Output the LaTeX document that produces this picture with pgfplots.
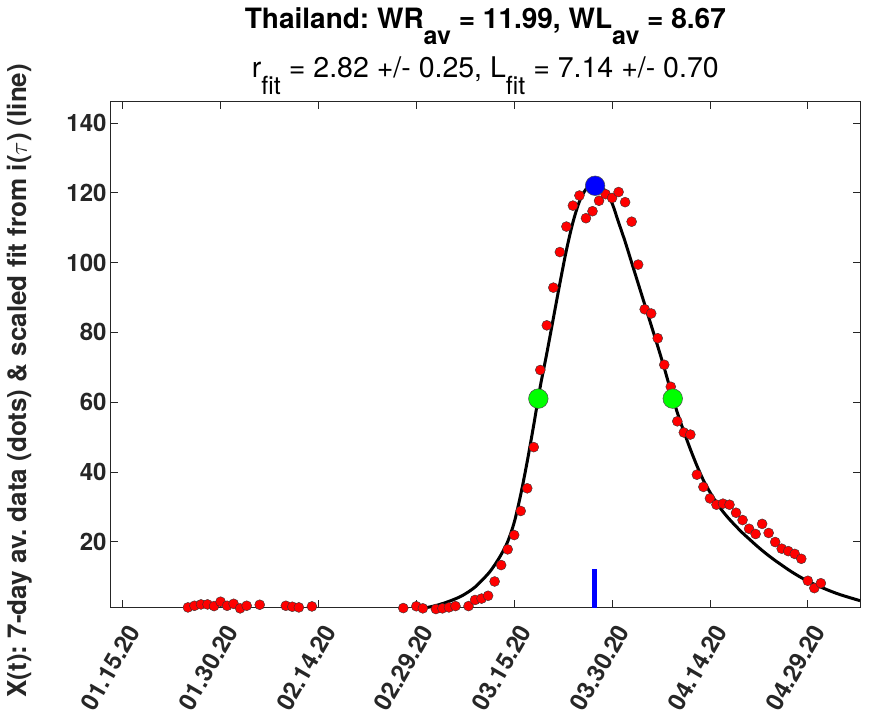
\documentclass[border=0pt]{standalone}
\usepackage{pgfplots}
\usepackage{pgfplotstable}
\pgfplotsset{compat=1.18}
\usepackage{fontspec}
\setmainfont{TeX Gyre Heros}
\frenchspacing
\definecolor{axgray}{rgb}{0.15,0.15,0.15}
\definecolor{mgreen}{rgb}{0,1,0}
\definecolor{mblue}{rgb}{0,0,1}
\definecolor{mred}{rgb}{1,0,0}
\newcommand{\sub}[1]{\raisebox{-0.6em}{\fontsize{25}{25}\selectfont #1}}

\pgfplotstableread{
day val
10 1.17
11 1.64
12 2.03
13 2.03
14 1.55
15 2.8
16 1.64
17 2.2
18 0.9
19 1.64
21 1.93
25 1.64
26 1.36
27 1.17
29 1.45
43 0.98
45 1.5
46 0.9
48 0.7
49 0.9
50 1.17
51 1.55
53 1.55
54 3.3
55 3.7
56 4.5
57 8.6
58 13.3
59 17.8
60 21.9
61 28.8
62 35.3
63 47.1
64 69.2
65 82.0
66 92.8
67 103.0
68 110.3
69 116.3
70 119.2
71 112.7
72 114.7
73 117.7
74 119.6
75 118.5
76 120.2
77 117.3
78 111.7
79 99.4
80 86.6
81 85.4
82 78.3
83 70.7
84 64.4
85 54.5
86 51.3
87 50.7
88 39.2
89 35.7
90 32.4
91 30.6
92 30.9
93 30.6
94 28.3
95 26.2
96 23.7
97 22.2
98 25.1
99 22.5
100 19.9
101 18.0
102 17.3
103 16.5
104 15.1
105 8.8
106 6.7
107 8.1
}\datatable

\pgfplotstableread{
day val
46 0.9
48 1.7
50 2.9
52 4.5
54 7.0
56 10.8
57 13.3
58 16.3
59 20.0
60 25.5
61 33.5
62 43.0
63 53.5
64 64.5
65 74.0
66 84.0
67 94.0
68 103.5
69 111.5
70 117.5
71 121.0
72 122.2
73 122.0
74 120.5
75 117.0
76 111.5
77 106.0
78 100.0
79 94.0
80 88.0
81 82.0
82 76.0
83 69.8
84 63.2
85 57.0
86 51.6
87 46.5
88 41.8
89 37.6
90 34.2
91 31.2
92 28.6
93 26.4
94 24.4
95 22.5
96 20.8
97 19.1
98 17.5
99 16.0
100 14.6
101 13.3
102 12.0
103 10.8
104 9.7
105 8.7
106 7.8
108 6.2
110 4.8
113 3.1
}\fittable

\begin{document}
\begin{tikzpicture}
\useasboundingbox (-110.7pt,-112pt) rectangle (760.3pt,608pt);
\begin{axis}[
  at={(0pt,0pt)}, anchor=south west,
  scale only axis, width=749.3pt, height=506pt,
  xmin=-1.84, xmax=113, ymin=1, ymax=146,
  xtick={0,15,30,45,60,75,90,105},
  xticklabels={01.15.20,01.30.20,02.14.20,02.29.20,03.15.20,03.30.20,04.14.20,04.29.20},
  ytick={20,40,60,80,100,120,140},
  tick align=inside, major tick length=7.5pt,
  tick pos=both,
  axis line style={axgray, line width=1pt},
  every tick/.style={axgray, line width=0.8pt},
  /pgf/number format/assume math mode=true,
  ticklabel style={font=\fontsize{24}{24}\selectfont\bfseries, text=axgray},
  yticklabel style={inner sep=0pt, xshift=-4pt},
  xticklabel style={inner sep=0pt, xshift=11pt, yshift=-19pt, rotate=60, anchor=east},
  ylabel={X(t): 7-day av. data (dots) \& scaled fit from i($\tau$) (line)},
  ylabel style={at={(axis description cs:-0.121,0.449)}, anchor=center,
     font=\fontsize{26}{26}\selectfont\bfseries, text=axgray},
  clip=false,
]
\addplot[only marks, mark=*, mark size=5pt,
  mark options={fill=mred, draw=black!80, line width=0.4pt}] table[x=day,y=val] {\datatable};
\addplot[black, line width=3pt, smooth] table[x=day,y=val] {\fittable};
\addplot[mblue, line width=5pt] coordinates {(72.3,1) (72.3,12.2)};
\addplot[only marks, mark=*, mark size=9.8pt,
  mark options={fill=mgreen, draw=black!70, line width=0.5pt}] coordinates {(63.7,61) (84.3,61)};
\addplot[only marks, mark=*, mark size=9.8pt,
  mark options={fill=mblue, draw=black!70, line width=0.5pt}] coordinates {(72.4,122)};
\node[anchor=base, font=\fontsize{28}{28}\selectfont\bfseries] at (rel axis cs:0.5,1.146)
  {Thailand: WR\sub{av} = 11.99, WL\sub{av} = 8.67};
\node[anchor=base, font=\fontsize{28.5}{28.5}\selectfont] at (rel axis cs:0.5,1.049)
  {r\sub{fit} = 2.82 +/- 0.25, L\sub{fit} = 7.14 +/- 0.70};
\end{axis}
\end{tikzpicture}
\end{document}
